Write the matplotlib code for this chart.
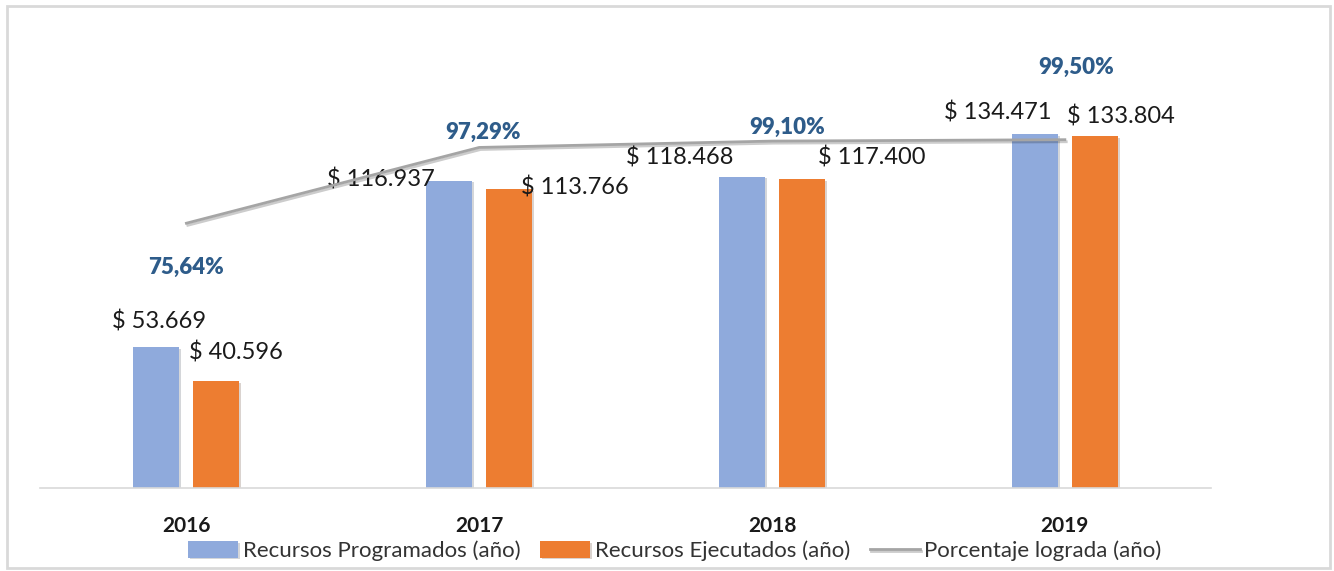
import matplotlib
matplotlib.use("Agg")
import matplotlib.pyplot as plt
import matplotlib.patheffects as pe
from matplotlib.patches import Rectangle
import numpy as np

plt.rcParams['font.family'] = ['Lato', 'DejaVu Sans']

years = ["2016", "2017", "2018", "2019"]
programados = [53669, 116937, 118468, 134471]
ejecutados = [40596, 113766, 117400, 133804]
porcentaje = [0.7564, 0.9729, 0.9910, 0.9950]

lbl_prog = ["$ 53.669", "$ 116.937", "$ 118.468", "$ 134.471"]
lbl_ejec = ["$ 40.596", "$ 113.766", "$ 117.400", "$ 133.804"]
lbl_pct = ["75,64%", "97,29%", "99,10%", "99,50%"]

# label offsets (points), hand placed like in the original
off_prog = [(2, 18), (-49, 1), (-45, 14), (-27, 16)]
off_ejec = [(14, 21), (47, 1), (50, 16), (19, 14)]
off_pct = [(0, -32), (3, 11), (11, 10), (8, 52)]

blue = "#8FAADC"
orange = "#ED7D31"
gray = "#A5A5A5"
pct_color = "#2E5C8A"

fig = plt.figure(figsize=(13.34, 5.71), dpi=100)
ax = fig.add_axes([0.030, 0.1454, 0.878, 0.8196])

x = np.arange(len(years))
w = 0.157
shadow = [pe.SimplePatchShadow(offset=(1.2, -1.2), alpha=0.2), pe.Normal()]
b1 = ax.bar(x - 0.1025, programados, w, color=blue, label="Recursos Programados (año)",
            path_effects=shadow, zorder=2)
b2 = ax.bar(x + 0.1025, ejecutados, w, color=orange, label="Recursos Ejecutados (año)",
            path_effects=shadow, zorder=2)

for i in range(len(years)):
    ax.annotate(lbl_prog[i], (x[i] - 0.1025, programados[i]), xytext=off_prog[i],
                textcoords="offset points", ha="center", va="center",
                fontsize=17, color="#1a1a1a", zorder=5)
    ax.annotate(lbl_ejec[i], (x[i] + 0.1025, ejecutados[i]), xytext=off_ejec[i],
                textcoords="offset points", ha="center", va="center",
                fontsize=17, color="#1a1a1a", zorder=5)

ax.set_xlim(-0.5, 3.5)
ax.set_ylim(0, 178000)
ax.set_yticks([])
for s in ["top", "right", "left"]:
    ax.spines[s].set_visible(False)
ax.spines["bottom"].set_color("#D9D9D9")
ax.spines["bottom"].set_linewidth(1.2)
ax.set_xticks(x)
ax.set_xticklabels(years, fontsize=15, fontweight="bold", color="#1a1a1a")
ax.tick_params(axis="x", length=0, pad=20)

ax2 = ax.twinx()
ln, = ax2.plot(x, porcentaje, color=gray, lw=2, label="Porcentaje lograda (año)", zorder=3,
               path_effects=[pe.SimpleLineShadow(offset=(1, -1.5), alpha=0.2), pe.Normal()])
ax2.set_ylim(0, 1.337)
ax2.set_axis_off()
for i in range(len(years)):
    ax2.annotate(lbl_pct[i], (x[i], porcentaje[i]), xytext=off_pct[i],
                 textcoords="offset points", ha="center", va="center",
                 fontsize=16, fontweight="heavy", color=pct_color)

fig.legend(handles=[b1, b2, ln], loc="center", bbox_to_anchor=(0.506, 0.035), ncol=3,
           frameon=False, fontsize=16, handlelength=2.25, handleheight=0.75,
           columnspacing=0.9, handletextpad=0.2, labelcolor="#333333")

fig.patches.append(Rectangle((0.005, 0.006), 0.992, 0.984, transform=fig.transFigure,
                             fill=False, edgecolor="#D9D9D9", lw=2))

fig.savefig("out.png", dpi=100)
